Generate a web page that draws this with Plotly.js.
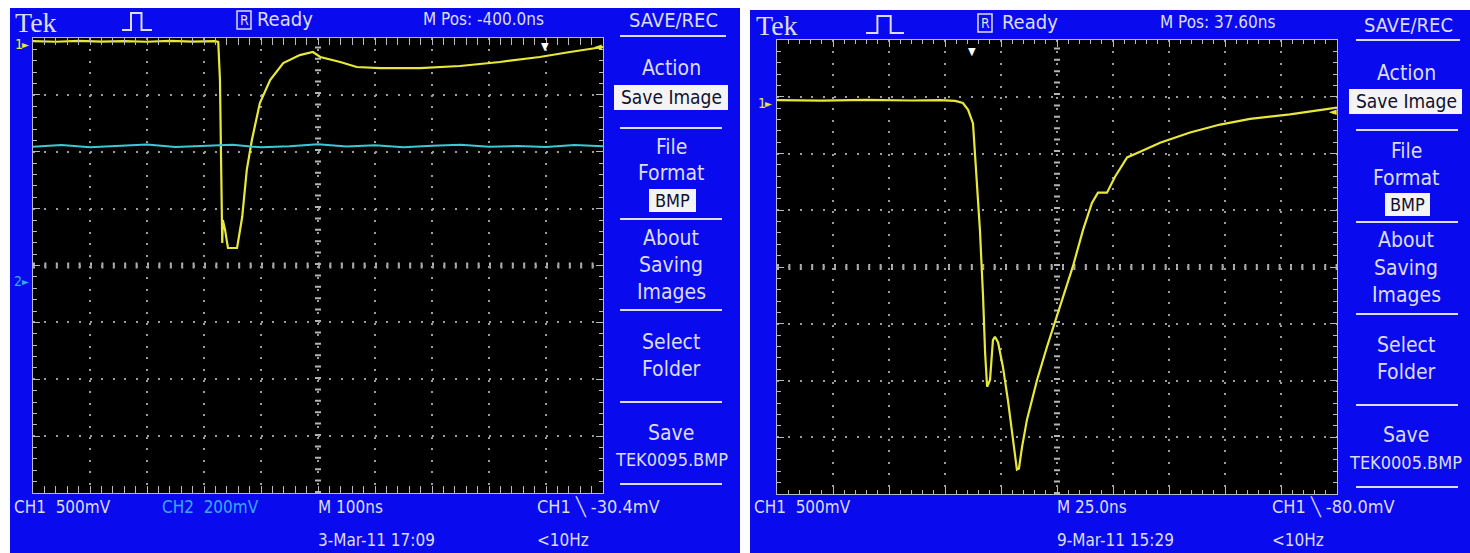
<!DOCTYPE html>
<html><head><meta charset="utf-8">
<script src="https://cdn.plot.ly/plotly-3.0.1.min.js"></script>
<style>html,body{margin:0;padding:0;background:#fff;}#chart{width:1470px;height:553px;}</style>
</head><body><div id="chart"></div>
<script>
// ---------- Left screen: 100 ns/div, CH1 500 mV/div, CH2 200 mV/div ----------
const leftTimeNs = [0,40,80,120,160,200,240,280,319,325,328,330,332,333,337,342,358,367,375,384,398,416,439,468,491,504,539,568,609,679,749,819,889,942,1000];
const leftCh1V   = [0.026,0.020,0.028,0.022,0.026,0.020,0.027,0.022,0.026,0.018,-0.316,-1.371,-1.749,-1.547,-1.635,-1.793,-1.793,-1.521,-1.108,-0.844,-0.519,-0.316,-0.167,-0.097,-0.070,-0.114,-0.158,-0.202,-0.211,-0.211,-0.193,-0.158,-0.114,-0.070,-0.026];
const leftCh2TimeNs = [0,50,100,150,200,250,300,350,400,450,500,550,600,650,700,750,800,850,900,950,1000];
const leftCh2V      = [0.472,0.478,0.470,0.476,0.480,0.471,0.475,0.479,0.470,0.474,0.481,0.473,0.477,0.470,0.476,0.479,0.472,0.475,0.471,0.478,0.474];

// ---------- Right screen: 25 ns/div, CH1 500 mV/div ----------
const rightTimeNs = [0,20,40,60,72.8,79.5,83.0,85.3,87.5,89.3,90.6,92.0,92.9,93.8,95.1,96.4,97.3,98.7,100.9,103.1,105.4,107.1,108.0,109.4,111.6,116.1,120.5,126.3,132.1,136.6,140.6,143.3,147.3,150.9,156.3,162.1,171.0,184.4,197.8,211.2,229.0,250];
const rightCh1V   = [0.026,0.020,0.028,0.022,0.026,0.018,0,-0.06,-0.18,-0.68,-1.12,-1.71,-2.20,-2.50,-2.44,-2.09,-2.06,-2.11,-2.33,-2.62,-2.97,-3.23,-3.22,-3.03,-2.79,-2.44,-2.15,-1.80,-1.44,-1.12,-0.88,-0.79,-0.79,-0.65,-0.48,-0.43,-0.35,-0.26,-0.19,-0.14,-0.10,-0.04];

// ---------- Screen texts ----------
const leftTop   = {tek:'Tek', ready:'Ready', mpos:'M Pos: -400.0ns'};
const rightTop  = {tek:'Tek', ready:'Ready', mpos:'M Pos: 37.60ns'};
const menuItems = ['Action','File','Format','About','Saving','Images','Select','Folder','Save'];
const leftBottom  = {ch1:'CH1  500mV', ch2:'CH2  200mV', m:'M 100ns', trig:'CH1 ╲ -30.4mV', date:'3-Mar-11 17:09', freq:'<10Hz', file:'TEK0095.BMP'};
const rightBottom = {ch1:'CH1  500mV', m:'M 25.0ns', trig:'CH1 ╲ -80.0mV', date:'9-Mar-11 15:29', freq:'<10Hz', file:'TEK0005.BMP'};

const W = 1470, H = 553;
const BLUE = '#0a0aee', TXT = '#dcdcf6', YEL = '#e8e83a', CYA = '#3cc8d8', GRID = '#9c9c9c';
const FONT = "'Liberation Sans Narrow','DejaVu Sans Condensed','Liberation Sans',sans-serif";
const SERIF = "'Liberation Serif','DejaVu Serif',serif";
const px = x => x / W, py = y => 1 - y / H;

function T(text, x, y, o) {
  o = o || {};
  return {text: text, x: px(x), y: py(y), xref:'paper', yref:'paper', showarrow:false,
    xanchor: o.anchor || 'left', yanchor:'middle',
    font:{family: o.family || FONT, size: o.size || 21, color: o.color || TXT}};
}
function rect(x0,y0,x1,y1,fill,line){
  return {type:'rect', xref:'paper', yref:'paper', x0:px(x0), x1:px(x1), y0:py(y0), y1:py(y1),
    fillcolor: fill || 'rgba(0,0,0,0)', line:{color: line || 'rgba(0,0,0,0)', width: line ? 1.5 : 0}, layer:'above'};
}
function hline(x0,x1,y,c,w){
  return {type:'line', xref:'paper', yref:'paper', x0:px(x0), x1:px(x1), y0:py(y), y1:py(y), line:{color:c||TXT, width:w||2}, layer:'above'};
}
function pulse(x0,y0,w,h){
  const a=px(x0), b=px(x0+w*0.3), c=px(x0+w*0.65), d=px(x0+w), lo=py(y0), hi=py(y0-h);
  return {type:'path', xref:'paper', yref:'paper', path:`M${a},${lo} L${b},${lo} L${b},${hi} L${c},${hi} L${c},${lo} L${d},${lo}`, line:{color:TXT,width:2}, layer:'above'};
}

const traces = [
  {x:leftCh2TimeNs, y:leftCh2V, xaxis:'x', yaxis:'y2', mode:'lines', line:{color:CYA,width:2}, hoverinfo:'skip'},
  {x:leftTimeNs, y:leftCh1V, xaxis:'x', yaxis:'y', mode:'lines', line:{color:YEL,width:2.2}, hoverinfo:'skip'},
  {x:rightTimeNs, y:rightCh1V, xaxis:'x2', yaxis:'y3', mode:'lines', line:{color:YEL,width:2.2}, hoverinfo:'skip'}
];

function gx(dom, range, dt, anchor){
  return {domain:dom, range:range, tick0:0, dtick:dt, anchor:anchor, showgrid:true, gridcolor:GRID, gridwidth:2,
    griddash:'2px,9.4px', zeroline:false, showticklabels:false, ticks:'inside', ticklen:7, tickcolor:'#b8b8c8', tickwidth:1,
    minor:{tick0:0, dtick:dt/5, ticks:'inside', ticklen:4, tickcolor:'#b8b8c8', showgrid:false},
    showline:true, linecolor:'#b8b8d0', linewidth:1, mirror:'allticks', fixedrange:true};
}
function gy(dom, range, dt, anchor){
  return {domain:dom, range:range, tick0:range[0], dtick:dt, anchor:anchor, showgrid:true, gridcolor:GRID, gridwidth:2,
    griddash:'2px,9.4px', zeroline:false, showticklabels:false, ticks:'inside', ticklen:7, tickcolor:'#b8b8c8', tickwidth:1,
    minor:{tick0:range[0], dtick:dt/5, ticks:'inside', ticklen:4, tickcolor:'#b8b8c8', showgrid:false},
    showline:true, linecolor:'#b8b8d0', linewidth:1, mirror:'allticks', fixedrange:true};
}

const centerLines = [];
[['x','y'],['x2','y3']].forEach(([xa,ya])=>{
  centerLines.push({type:'line', xref:xa+' domain', yref:ya+' domain', x0:0.5,x1:0.5,y0:0,y1:1, line:{color:'#b4b4b4',width:6,dash:'2px,9.4px'}, layer:'below'});
  centerLines.push({type:'line', xref:xa+' domain', yref:ya+' domain', x0:0,x1:1,y0:0.5,y1:0.5, line:{color:'#b4b4b4',width:6,dash:'2px,9.4px'}, layer:'below'});
});

const shapes = centerLines.concat([
  rect(0,0,10,553,'#ffffff'), rect(0,0,1470,8,'#ffffff'), rect(740,0,750,553,'#ffffff'), rect(750,0,1470,10,'#ffffff'),
  hline(620,726,36), rect(614,85,728,110,'#f4f4f4'), hline(620,722,128), rect(649,189,696,212,'#f4f4f4'),
  hline(620,722,219), hline(620,722,310), hline(620,722,402), hline(620,722,484),
  hline(1356,1460,40), rect(1349,89,1462,114,'#f4f4f4'), hline(1356,1458,130), rect(1385,193,1430,216,'#f4f4f4'),
  hline(1356,1458,222), hline(1356,1458,314), hline(1356,1458,405), hline(1356,1458,487),
  rect(237,11,251,29,'rgba(0,0,0,0)',TXT), rect(978,14,992,32,'rgba(0,0,0,0)',TXT),
  pulse(122,30,30,17), pulse(866,33,38,17)
]);

const ann = [
  T(leftTop.tek,13,22,{family:SERIF,size:28}),
  T('R',244,20,{anchor:'center',size:14}), T(leftTop.ready,255,19,{size:20}), T(leftTop.mpos,421,19,{size:17}),
  T('SAVE/REC',673,20,{anchor:'center',size:20}),
  T(menuItems[0],671,68,{anchor:'center'}), T('Save Image',671,97,{anchor:'center',size:19,color:'#101030'}),
  T(menuItems[1],671,147,{anchor:'center'}), T(menuItems[2],671,173,{anchor:'center'}), T('BMP',672,200,{anchor:'center',size:18,color:'#101030'}),
  T(menuItems[3],671,238,{anchor:'center'}), T(menuItems[4],671,265,{anchor:'center'}), T(menuItems[5],671,292,{anchor:'center'}),
  T(menuItems[6],671,342,{anchor:'center'}), T(menuItems[7],671,369,{anchor:'center'}),
  T(menuItems[8],671,433,{anchor:'center'}), T(leftBottom.file,671,459,{anchor:'center',size:18}),
  T(leftBottom.ch1,12,507,{size:17}), T(leftBottom.ch2,160,507,{size:17,color:'#3aa8ff'}), T(leftBottom.m,316,507,{size:17}), T(leftBottom.trig,535,507,{size:18}),
  T(leftBottom.date,316,540,{size:17}), T(leftBottom.freq,535,540,{size:17}),
  T('1',13,44,{size:14,color:YEL}), T('►',20,44,{size:10,color:YEL}),
  T('2',12,281,{size:14,color:'#3aa8ff'}), T('►',20,281,{size:10,color:'#3aa8ff'}),
  T('▼',545,46,{anchor:'center',size:11,color:'#ffffff'}), T('◄',598,47,{anchor:'center',size:11,color:YEL}),

  T(rightTop.tek,754,26,{family:SERIF,size:28}),
  T('R',985,23,{anchor:'center',size:14}), T(rightTop.ready,1000,22,{size:20}), T(rightTop.mpos,1158,22,{size:17}),
  T('SAVE/REC',1408,25,{anchor:'center',size:20}),
  T(menuItems[0],1406,73,{anchor:'center'}), T('Save Image',1406,101,{anchor:'center',size:19,color:'#101030'}),
  T(menuItems[1],1406,151,{anchor:'center'}), T(menuItems[2],1406,178,{anchor:'center'}), T('BMP',1407,204,{anchor:'center',size:18,color:'#101030'}),
  T(menuItems[3],1406,240,{anchor:'center'}), T(menuItems[4],1406,268,{anchor:'center'}), T(menuItems[5],1406,295,{anchor:'center'}),
  T(menuItems[6],1406,345,{anchor:'center'}), T(menuItems[7],1406,372,{anchor:'center'}),
  T(menuItems[8],1406,435,{anchor:'center'}), T(rightBottom.file,1405,462,{anchor:'center',size:18}),
  T(rightBottom.ch1,752,507,{size:17}), T(rightBottom.m,1055,507,{size:17}), T(rightBottom.trig,1270,507,{size:18}),
  T(rightBottom.date,1055,540,{size:17}), T(rightBottom.freq,1270,540,{size:17}),
  T('1',756,103,{size:14,color:YEL}), T('►',763,103,{size:10,color:YEL}),
  T('▼',972,51,{anchor:'center',size:11,color:'#ffffff'}), T('◄',1333,111,{anchor:'center',size:11,color:YEL})
];

const layout = {
  width:W, height:H, margin:{l:0,r:0,t:0,b:0}, showlegend:false,
  paper_bgcolor:BLUE, plot_bgcolor:'#000000',
  xaxis: gx([33/W,603/W],[0,1000],100,'y'),
  yaxis: gy([1-493/H,1-38/H],[-3.947,0.053],0.5,'x'),
  yaxis2:{overlaying:'y', anchor:'x', range:[-0.7455,0.8545], visible:false, fixedrange:true},
  xaxis2: gx([777/W,1337/W],[0,250],25,'y3'),
  yaxis3: gy([1-494/H,1-40/H],[-3.445,0.555],0.5,'x2'),
  shapes: shapes, annotations: ann
};
Plotly.newPlot('chart', traces, layout, {staticPlot:true, displayModeBar:false});
</script></body></html>
